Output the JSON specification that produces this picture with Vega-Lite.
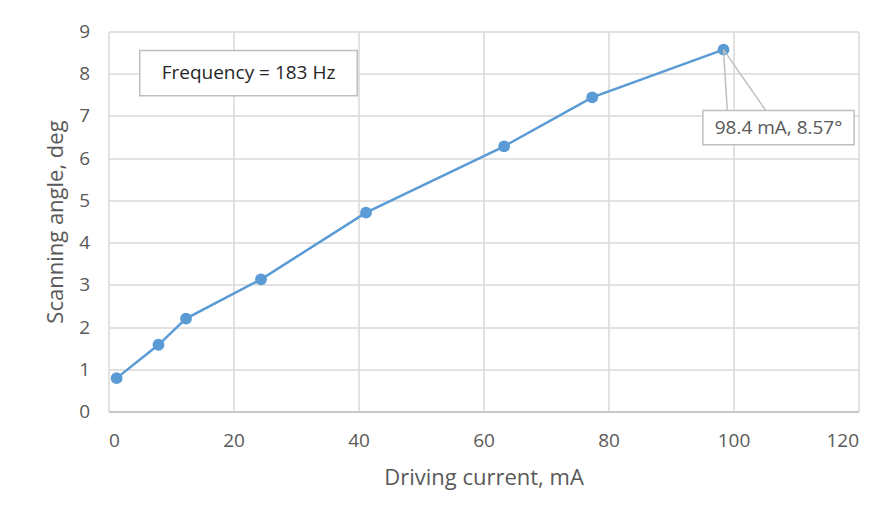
{
  "$schema": "https://vega.github.io/schema/vega-lite/v6.json",
  "width": 750,
  "height": 380,
  "autosize": {"type": "none"},
  "padding": {"left": 108.5, "top": 31.5, "right": 32.5, "bottom": 108.5},
  "background": "white",
  "config": {
    "view": {"stroke": null},
    "font": "Open Sans",
    "axis": {
      "gridColor": "#d9d9d9",
      "gridWidth": 1.5,
      "ticks": false,
      "tickSize": 0,
      "labelColor": "#595959",
      "labelFontSize": 19,
      "labelFont": "Open Sans",
      "titleColor": "#595959",
      "titleFontSize": 22,
      "titleFont": "Open Sans",
      "titleFontWeight": "normal"
    }
  },
  "data": {
    "values": [
      {"current": 1.3, "angle": 0.79},
      {"current": 8.0, "angle": 1.58},
      {"current": 12.4, "angle": 2.2},
      {"current": 24.4, "angle": 3.13},
      {"current": 41.2, "angle": 4.71},
      {"current": 63.3, "angle": 6.28},
      {"current": 77.4, "angle": 7.44},
      {"current": 98.4, "angle": 8.57}
    ]
  },
  "encoding": {
    "x": {
      "field": "current",
      "type": "quantitative",
      "scale": {"domain": [0, 120], "nice": false},
      "axis": {
        "title": "Driving current, mA",
        "values": [0, 20, 40, 60, 80, 100, 120],
        "domainColor": "#bfbfbf",
        "domainWidth": 1.5,
        "labelPadding": 20,
        "titlePadding": 17
      }
    },
    "y": {
      "field": "angle",
      "type": "quantitative",
      "scale": {"domain": [0, 9], "nice": false},
      "axis": {
        "title": "Scanning angle, deg",
        "values": [0, 1, 2, 3, 4, 5, 6, 7, 8, 9],
        "domain": false,
        "labelPadding": 19,
        "titlePadding": 11
      }
    }
  },
  "layer": [
    {
      "mark": {"type": "line", "color": "#5b9bd5", "strokeWidth": 2.5}
    },
    {
      "mark": {"type": "point", "filled": true, "color": "#5b9bd5", "size": 140, "opacity": 1}
    },
    {
      "transform": [{"filter": "datum.current == 98.4"}],
      "mark": {"type": "rect", "fill": "white", "stroke": "#bfbfbf", "strokeWidth": 1.5},
      "encoding": {
        "x": {"datum": 5.0},
        "x2": {"datum": 39.8},
        "y": {"datum": 8.55},
        "y2": {"datum": 7.48}
      }
    },
    {
      "transform": [{"filter": "datum.current == 98.4"}],
      "mark": {"type": "text", "fontSize": 19, "font": "Open Sans", "color": "#262626", "align": "center", "baseline": "middle"},
      "encoding": {
        "x": {"datum": 22.4},
        "y": {"datum": 8.02},
        "text": {"value": "Frequency = 183 Hz"}
      }
    },
    {
      "transform": [{"filter": "datum.current == 98.4"}],
      "mark": {"type": "rule", "color": "#bfbfbf", "strokeWidth": 1.5},
      "encoding": {
        "x2": {"datum": 99.0},
        "y2": {"datum": 7.13}
      }
    },
    {
      "transform": [{"filter": "datum.current == 98.4"}],
      "mark": {"type": "rule", "color": "#bfbfbf", "strokeWidth": 1.5},
      "encoding": {
        "x2": {"datum": 105.15},
        "y2": {"datum": 7.13}
      }
    },
    {
      "transform": [{"filter": "datum.current == 98.4"}],
      "mark": {"type": "rect", "fill": "white", "stroke": "#bfbfbf", "strokeWidth": 1.5},
      "encoding": {
        "x": {"datum": 95.1},
        "x2": {"datum": 119.3},
        "y": {"datum": 7.13},
        "y2": {"datum": 6.32}
      }
    },
    {
      "transform": [{"filter": "datum.current == 98.4"}],
      "mark": {"type": "text", "fontSize": 19, "font": "Open Sans", "color": "#595959", "align": "center", "baseline": "middle"},
      "encoding": {
        "x": {"datum": 107.2},
        "y": {"datum": 6.72},
        "text": {"value": "98.4 mA, 8.57°"}
      }
    }
  ]
}
